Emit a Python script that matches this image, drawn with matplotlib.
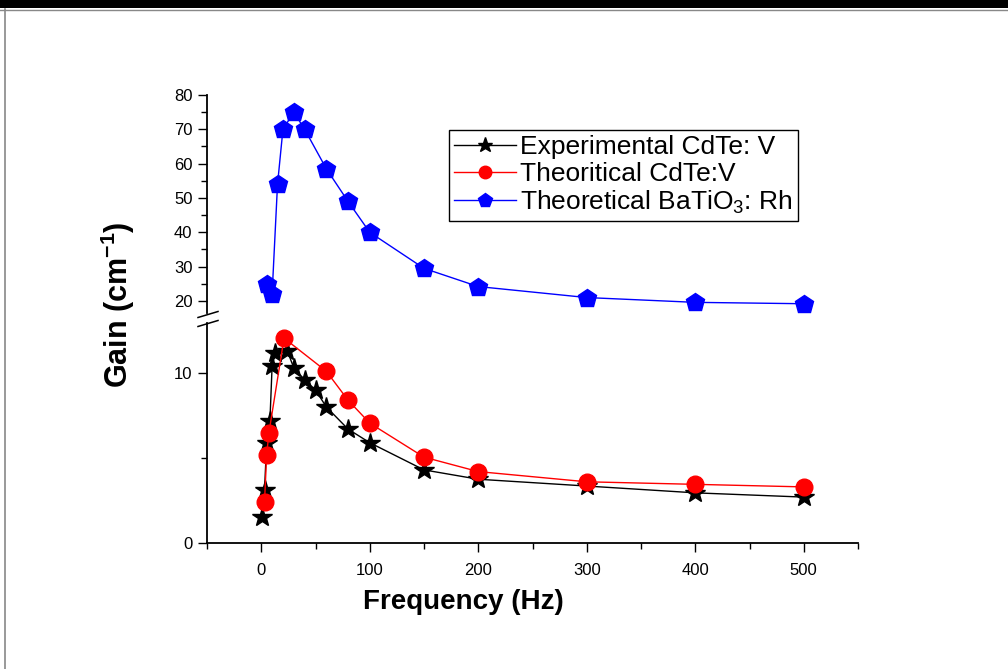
import matplotlib
matplotlib.use("Agg")
import matplotlib.pyplot as plt
from matplotlib.lines import Line2D
from matplotlib.patches import Rectangle
from matplotlib.ticker import MultipleLocator

plt.rcParams['font.family'] = ['Liberation Sans', 'DejaVu Sans']
plt.rcParams['mathtext.fontset'] = 'custom'
plt.rcParams['mathtext.rm'] = 'Liberation Sans'
plt.rcParams['mathtext.it'] = 'Liberation Sans:italic'
plt.rcParams['mathtext.bf'] = 'Liberation Sans:bold'

# ---- data ----
exp_x = [1, 3, 5, 8, 10, 13, 24, 30, 40, 50, 60, 80, 100, 150, 200, 300, 400, 500]
exp_y = [1.5, 3.1, 5.9, 7.2, 10.4, 11.2, 11.3, 10.3, 9.6, 9.0, 8.0, 6.7, 5.9, 4.3, 3.75, 3.35, 2.95, 2.7]

th_x = [3, 5, 7, 21, 60, 80, 100, 150, 200, 300, 400, 500]
th_y = [2.4, 5.2, 6.45, 12.05, 10.1, 8.4, 7.05, 5.05, 4.2, 3.6, 3.45, 3.3]

ba_x = [5, 10, 15, 20, 30, 40, 60, 80, 100, 150, 200, 300, 400, 500]
ba_y = [25, 22, 54, 70, 75, 70, 58.5, 49, 40, 29.5, 24.2, 21, 19.6, 19.2]

x_ticks = [0, 100, 200, 300, 400, 500]
upper_ticks = [20, 30, 40, 50, 60, 70, 80]
lower_ticks = [0, 10]

labels = ['Experimental CdTe: V', 'Theoritical CdTe:V', r'Theoretical BaTiO$_3$: Rh']

W, H = 1008, 669
fig = plt.figure(figsize=(W / 100, H / 100), dpi=100)


def fx(px):
    return px / W


def fy(py):
    return 1 - py / H


left, right = 207, 858
ax_lo = fig.add_axes([fx(left), fy(543), fx(right - left), (543 - 323) / H])
ax_up = fig.add_axes([fx(left), fy(313), fx(right - left), (313 - 95) / H], sharex=ax_lo)

l1, = ax_lo.plot(exp_x, exp_y, color='black', lw=1.0, marker='*', ms=15,
                 markerfacecolor='black', markeredgecolor='black', zorder=3)
l2, = ax_lo.plot(th_x, th_y, color='red', lw=1.0, marker='o', ms=12,
                 markerfacecolor='red', markeredgecolor='red', zorder=4)
l3, = ax_up.plot(ba_x, ba_y, color='blue', lw=1.0, marker='p', ms=13.5,
                 markerfacecolor='blue', markeredgecolor='blue', zorder=4)

ax_lo.set_xlim(-50, 550)
ax_lo.set_ylim(0, 12.94)
ax_up.set_ylim(16.5, 80)

for ax in (ax_lo, ax_up):
    ax.spines['top'].set_visible(False)
    ax.spines['right'].set_visible(False)
    ax.spines['left'].set_linewidth(1.3)
    ax.spines['bottom'].set_linewidth(1.3)
    ax.patch.set_alpha(0)
    ax.tick_params(axis='both', which='major', direction='out', length=6.5, width=1.0,
                   labelsize=12, pad=4)
    ax.tick_params(axis='both', which='minor', direction='out', length=4, width=1.0)

ax_up.spines['bottom'].set_visible(False)
ax_up.tick_params(axis='x', which='both', bottom=False, labelbottom=False)

ax_lo.set_xticks(x_ticks)
ax_lo.xaxis.set_minor_locator(MultipleLocator(50))
ax_lo.set_yticks(lower_ticks)
ax_lo.yaxis.set_minor_locator(MultipleLocator(5))
ax_up.set_yticks(upper_ticks)
ax_up.yaxis.set_minor_locator(MultipleLocator(5))
ax_lo.tick_params(axis='x', pad=8)

# axis break marks
for y0, y1 in [(317.5, 311.5), (326.5, 320.5)]:
    fig.add_artist(Line2D([fx(198), fx(218)], [fy(y0), fy(y1)], color='black', lw=1.1))

fig.text(fx(463), fy(602), 'Frequency (Hz)', fontsize=20, fontweight='bold',
         ha='center', va='center')
fig.text(fx(118), fy(305), r'Gain (cm$^{\mathbf{-1}}$)', fontsize=22, fontweight='bold',
         rotation=90, ha='center', va='center')

leg = fig.legend([l1, l2, l3], labels, loc='upper left',
                 bbox_to_anchor=(fx(449), fy(130)), fontsize=19,
                 frameon=True, fancybox=False, framealpha=1, edgecolor='black',
                 borderaxespad=0, handlelength=2.35, handletextpad=0.15,
                 labelspacing=0.1, borderpad=0.2, markerscale=0.75)
leg.get_frame().set_linewidth(1.0)

# page decorations (document crop)
fig.add_artist(Rectangle((0, fy(8)), 1, 8 / H, transform=fig.transFigure,
                         color='black', lw=0))
fig.add_artist(Line2D([0, 1], [fy(9.5), fy(9.5)], color='#888888', lw=1))
fig.add_artist(Line2D([fx(5), fx(5)], [0, fy(9)], color='#888888', lw=1.2))

fig.savefig('out.png', dpi=100)
